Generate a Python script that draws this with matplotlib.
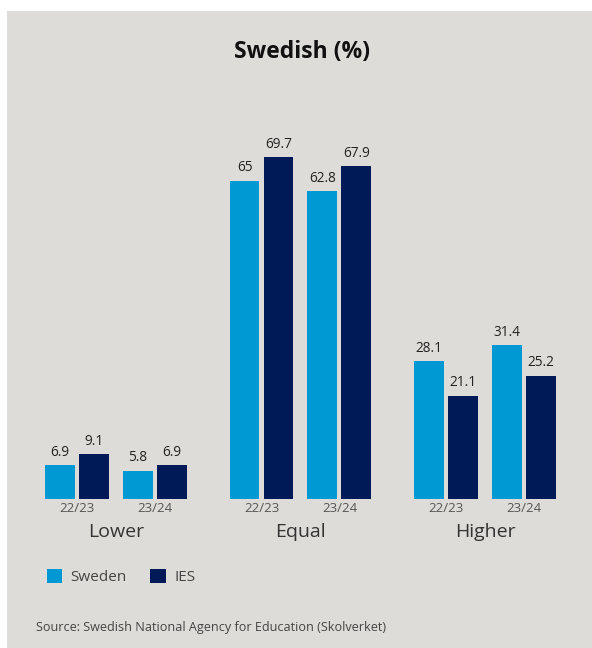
import matplotlib.pyplot as plt
from matplotlib.patches import Rectangle
from matplotlib.transforms import blended_transform_factory
import numpy as np

plt.rcParams['font.family'] = ['Open Sans', 'DejaVu Sans']

groups = ["Lower", "Equal", "Higher"]
years = ["22/23", "23/24"]
series = ["Sweden", "IES"]
sweden = [[6.9, 5.8], [65, 62.8], [28.1, 31.4]]
ies = [[9.1, 6.9], [69.7, 67.9], [21.1, 25.2]]
colors = {"Sweden": "#0099d3", "IES": "#001a57"}

W, H = 592, 648
fig = plt.figure(figsize=(W / 100, H / 100), dpi=100)
fig.patch.set_facecolor("white")
bg = "#dedcd8"
fig.patches.append(Rectangle((7 / W, 0), 1 - 7 / W, 1 - 11 / H,
                             transform=fig.transFigure, facecolor=bg,
                             edgecolor="none", zorder=-10))

ax_left, ax_right = 30, 570
ax_top, ax_bottom = 100, 499
ax = fig.add_axes([ax_left / W, 1 - ax_bottom / H,
                   (ax_right - ax_left) / W, (ax_bottom - ax_top) / H])
ax.set_facecolor("none")

bar_w = 0.162
year_off = [-0.211, 0.211]
ser_off = {"Sweden": -0.092, "IES": 0.092}

handles = {}
tick_pos, tick_lab = [], []
for gi, g in enumerate(groups):
    for yi, yr in enumerate(years):
        xc = gi + year_off[yi]
        tick_pos.append(xc)
        tick_lab.append(yr)
        for name, vals in (("Sweden", sweden), ("IES", ies)):
            v = vals[gi][yi]
            b = ax.bar(xc + ser_off[name], v, width=bar_w,
                       color=colors[name], label=name)
            handles[name] = b
            ax.annotate(f"{v:g}", (xc + ser_off[name], v),
                        xytext=(0, 4), textcoords="offset points",
                        ha="center", va="bottom", fontsize=9.8,
                        color="#222222")

ax.set_xlim(-0.465, 2.46)
ax.set_ylim(0, 399 / 4.9)
ax.set_xticks(tick_pos)
ax.set_xticklabels(tick_lab, fontsize=9.5, color="#555555")
ax.tick_params(axis="x", length=0, pad=2)
ax.set_yticks([])
for s in ax.spines.values():
    s.set_visible(False)

trans = blended_transform_factory(ax.transData, ax.transAxes)
for gi, g in enumerate(groups):
    ax.text(gi, -0.083, g, transform=trans, ha="center", va="center",
            fontsize=14, color="#333333")

fig.text(302 / W, 1 - 52 / H, "Swedish (%)", ha="center", va="center",
         fontsize=16.5, fontweight="bold", color="#111111")

fig.legend(handles=[handles["Sweden"], handles["IES"]], labels=series,
           loc="center left", bbox_to_anchor=(33 / W, 1 - 577 / H),
           ncol=2, frameon=False, fontsize=11, handlelength=1.0,
           handleheight=1.0, handletextpad=0.55, columnspacing=1.55,
           labelcolor="#444444")

fig.text(36 / W, 1 - 627 / H,
         "Source: Swedish National Agency for Education (Skolverket)",
         ha="left", va="center", fontsize=9.1, color="#444444")

fig.savefig("out.png", dpi=100)
